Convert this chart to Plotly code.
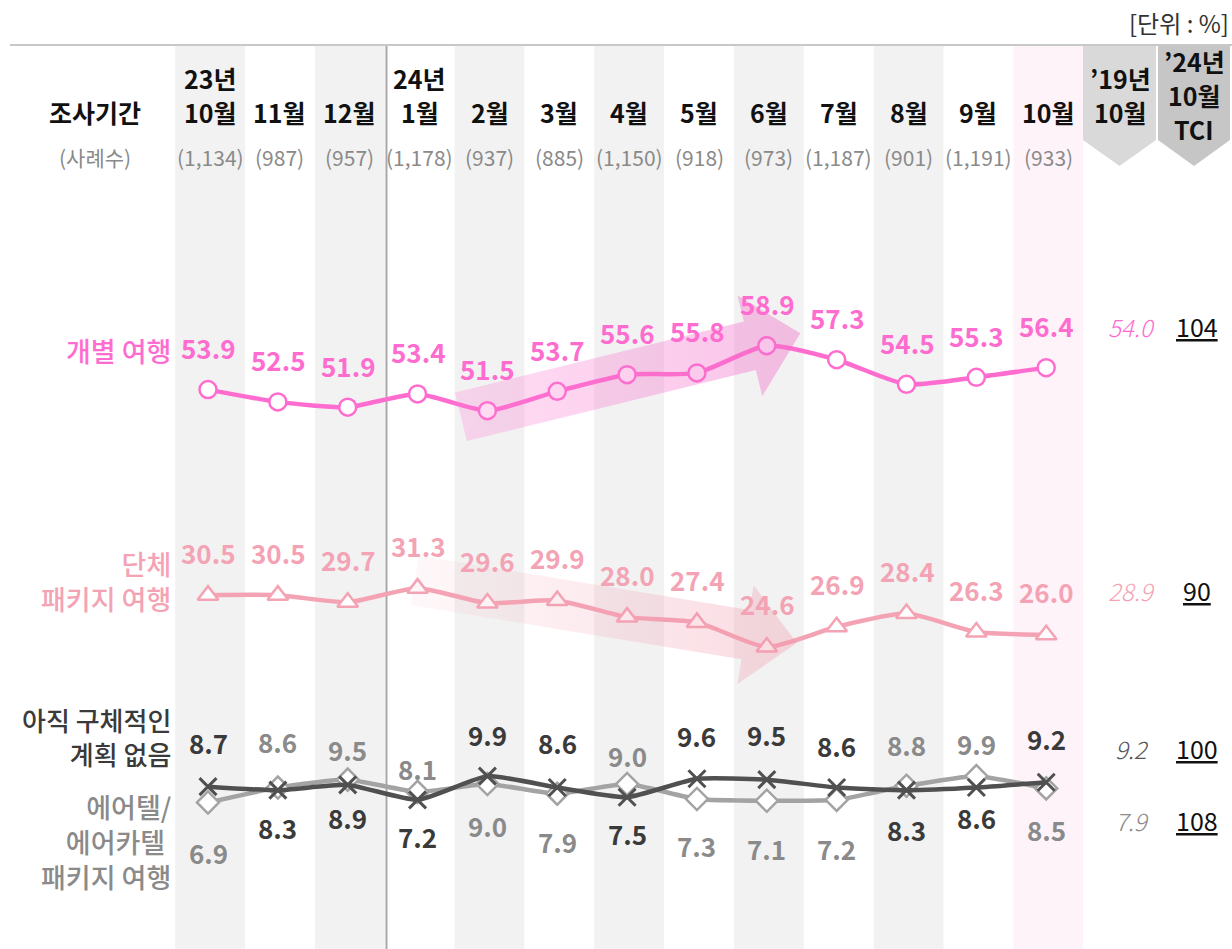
import math
import plotly.graph_objects as go

# ---- data -------------------------------------------------------------
years = ["23년", "", "", "24년", "", "", "", "", "", "", "", "", ""]
months = ["10월", "11월", "12월", "1월", "2월", "3월", "4월", "5월", "6월", "7월", "8월", "9월", "10월"]
samples = ["(1,134)", "(987)", "(957)", "(1,178)", "(937)", "(885)", "(1,150)",
           "(918)", "(973)", "(1,187)", "(901)", "(1,191)", "(933)"]

individual = [53.9, 52.5, 51.9, 53.4, 51.5, 53.7, 55.6, 55.8, 58.9, 57.3, 54.5, 55.3, 56.4]
group_pkg = [30.5, 30.5, 29.7, 31.3, 29.6, 29.9, 28.0, 27.4, 24.6, 26.9, 28.4, 26.3, 26.0]
no_plan = [8.7, 8.3, 8.9, 7.2, 9.9, 8.6, 7.5, 9.6, 9.5, 8.6, 8.3, 8.6, 9.2]
airtel_pkg = [6.9, 8.6, 9.5, 8.1, 9.0, 7.9, 9.0, 7.3, 7.1, 7.2, 8.8, 9.9, 8.5]

ref_2019 = [54.0, 28.9, 9.2, 7.9]
tci_2024 = [104, 90, 100, 108]

# ---- styling ------------------------------------------------------------
FONT = "Noto Sans CJK KR"
PINK = "#ff6ccf"
LPINK = "#f4a3b4"
DARK = "#505050"
GRAY = "#a3a3a3"
DARK_TXT = "#3a3a3a"
GRAY_TXT = "#8a8a8a"

W, H = 1232, 949
X0, DX = 208.0, 69.85     # pixel x of first column, column pitch
Y0, DY = 863.1, 8.785     # pixel y of value 0, pixels per percentage point


def px_x(px):
    return (px - X0) / DX


def px_y(py):
    return (Y0 - py) / DY


idx = list(range(len(months)))
fig = go.Figure()

# ---- column bands and separators --------------------------------------------
shapes = []
for i in idx:
    if i == len(idx) - 1:
        fill = "#fff3fa"
    elif i % 2 == 0:
        fill = "#f2f2f2"
    else:
        continue
    shapes.append(dict(type="rect", xref="x", yref="paper", x0=i - 0.47, x1=i + 0.53,
                       y0=0, y1=1 - 46 / H, fillcolor=fill, line_width=0, layer="below"))
shapes.append(dict(type="line", xref="x", yref="paper", x0=2.555, x1=2.555, y0=0, y1=1 - 46 / H,
                   line=dict(color="#a8a8a8", width=2), layer="below"))
shapes.append(dict(type="line", xref="paper", yref="paper", x0=10 / W, x1=1, y0=1 - 45 / H,
                   y1=1 - 45 / H, line=dict(color="#c8c8c8", width=2), layer="below"))


def chevron(xl, xr, ybot, ytip, color):
    pts = [(xl, 46), (xr, 46), (xr, ybot), ((xl + xr) / 2, ytip), (xl, ybot)]
    d = "M " + " L ".join(f"{x / W:.5f},{1 - y / H:.5f}" for x, y in pts) + " Z"
    return dict(type="path", xref="paper", yref="paper", path=d, fillcolor=color,
                line_width=0, layer="below")


shapes.append(chevron(1083, 1156, 140, 166, "#d9d9d9"))
shapes.append(chevron(1158, 1230, 140, 166, "#c6c6c6"))

# ---- series -------------------------------------------------------------
fig.add_trace(go.Scatter(
    x=idx, y=airtel_pkg, mode="lines+markers", hoverinfo="skip",
    line=dict(color=GRAY, width=4.5, shape="spline", smoothing=0.5),
    marker=dict(symbol="diamond", size=17, color="white", line=dict(color=GRAY, width=2.5))))
fig.add_trace(go.Scatter(
    x=idx, y=no_plan, mode="lines+markers", hoverinfo="skip",
    line=dict(color=DARK, width=4.5, shape="spline", smoothing=0.5),
    marker=dict(symbol="x-thin", size=17, color=DARK, line=dict(color=DARK, width=3))))
fig.add_trace(go.Scatter(
    x=idx, y=group_pkg, mode="lines+markers", hoverinfo="skip",
    line=dict(color=LPINK, width=4.5, shape="spline", smoothing=0.6),
    marker=dict(symbol="triangle-up", size=18, color="white", line=dict(color=LPINK, width=2.5))))
fig.add_trace(go.Scatter(
    x=idx, y=individual, mode="lines+markers", hoverinfo="skip",
    line=dict(color=PINK, width=4.5, shape="spline", smoothing=0.6),
    marker=dict(symbol="circle", size=17, color="white", line=dict(color=PINK, width=2.5))))


# ---- trend arrows (translucent, drawn over the lines) --------------------------
def arrow_trace(tail, tip, half_w, head_hw, head_len, colorscale):
    tx, ty = X0 + DX * tail[0], Y0 - DY * tail[1]
    px, py = X0 + DX * tip[0], Y0 - DY * tip[1]
    L = math.hypot(px - tx, py - ty)
    ux, uy = (px - tx) / L, (py - ty) / L
    nx, ny = -uy, ux
    bx, by = px - head_len * ux, py - head_len * uy
    pts = [(tx + half_w * nx, ty + half_w * ny), (bx + half_w * nx, by + half_w * ny),
           (bx + head_hw * nx, by + head_hw * ny), (px, py),
           (bx - head_hw * nx, by - head_hw * ny), (bx - half_w * nx, by - half_w * ny),
           (tx - half_w * nx, ty - half_w * ny), (tx + half_w * nx, ty + half_w * ny)]
    return go.Scatter(x=[px_x(p[0]) for p in pts], y=[px_y(p[1]) for p in pts],
                      mode="lines", line=dict(width=0), fill="toself",
                      fillgradient=dict(type="horizontal", colorscale=colorscale),
                      hoverinfo="skip")


fig.add_trace(arrow_trace((3.62, 50.8), (8.48, 60.3), 25, 52, 52,
                          [[0, "rgba(255,120,210,0.25)"], [1, "rgba(240,110,200,0.42)"]]))
fig.add_trace(arrow_trace((2.96, 32.2), (8.43, 25.05), 25, 50, 52,
                          [[0, "rgba(244,163,180,0.08)"], [1, "rgba(240,150,170,0.35)"]]))

# ---- annotations ------------------------------------------------------------
ann = []


def txt(x, y, text, size, color, xref="x", yref="y", weight=400, xanchor="center",
        yanchor="middle", yshift=0, style="normal", under=False, align="center"):
    f = dict(family=FONT, size=size, color=color, weight=weight, style=style)
    if under:
        f["lineposition"] = "under"
    ann.append(dict(x=x, y=y, xref=xref, yref=yref, text=text, showarrow=False, font=f,
                    xanchor=xanchor, yanchor=yanchor, yshift=yshift, align=align))


B = 700
# header row
txt(px_x(95), px_y(112), "조사기간", 25, "#111111", weight=B)
txt(px_x(95), px_y(157), "(사례수)", 21, GRAY_TXT)
for i in idx:
    if years[i]:
        txt(i + 0.03, px_y(78), years[i], 25, "#111111", weight=B)
    txt(i + 0.03, px_y(112), months[i], 25, "#111111", weight=B)
    txt(i + 0.03, px_y(157), samples[i], 21, GRAY_TXT)
txt(px_x(1120), px_y(78), "’19년", 25, "#111111", weight=B)
txt(px_x(1120), px_y(112), "10월", 25, "#111111", weight=B)
txt(px_x(1194), px_y(61), "’24년", 25, "#111111", weight=B)
txt(px_x(1194), px_y(95), "10월", 25, "#111111", weight=B)
txt(px_x(1194), px_y(129), "TCI", 25, "#111111", weight=B)
txt(1231 / W, 1 - 22 / H, "[단위 : %]", 24, "#333333", xref="paper", yref="paper", xanchor="right")

# row labels
txt(px_x(173), px_y(350), "개별 여행", 27, PINK, xanchor="right", weight=500)
txt(px_x(173), px_y(581), "단체<br>패키지 여행", 27, LPINK, xanchor="right", align="right", weight=500)
txt(px_x(173), px_y(736), "아직 구체적인<br>계획 없음", 26, DARK_TXT, xanchor="right", align="right",
    weight=500)
txt(px_x(173), px_y(841), "에어텔/<br>에어카텔 <br>패키지 여행", 27, GRAY_TXT, xanchor="right",
    align="right", weight=500)

# value labels
no_plan_shift = [44, -37, -33, -37, 42, 45, -36, 43, 45, 42, -39, -30, 44]
airtel_shift = [-50, 46, 30, 23, -41, -48, 29, -47, -48, -49, 41, 33, -41]
for i in idx:
    txt(i, individual[i], f"{individual[i]:.1f}", 26, PINK, weight=B, yshift=42)
    txt(i, group_pkg[i], f"{group_pkg[i]:.1f}", 26, LPINK, weight=B, yshift=43)
    txt(i, no_plan[i], f"{no_plan[i]:.1f}", 26, DARK_TXT, weight=B, yshift=no_plan_shift[i])
    txt(i, airtel_pkg[i], f"{airtel_pkg[i]:.1f}", 26, GRAY_TXT, weight=B, yshift=airtel_shift[i])

# 2019 reference and TCI columns
right_rows = [326, 590, 748, 820]
ref_colors = [PINK, LPINK, "#555555", GRAY_TXT]
for k in range(4):
    txt(px_x(1132), px_y(right_rows[k]), f"{ref_2019[k]:.1f}", 24, ref_colors[k], style="italic",
        weight=300)
    txt(px_x(1197), px_y(right_rows[k]), str(tci_2024[k]), 25, "#111111", under=True)

fig.update_layout(
    width=W, height=H, margin=dict(l=0, r=0, t=0, b=0),
    paper_bgcolor="white", plot_bgcolor="white", showlegend=False,
    xaxis=dict(range=[px_x(0), px_x(W)], visible=False, fixedrange=True),
    yaxis=dict(range=[px_y(H), px_y(0)], visible=False, fixedrange=True),
    shapes=shapes, annotations=ann,
)

fig.write_html("out.html")
